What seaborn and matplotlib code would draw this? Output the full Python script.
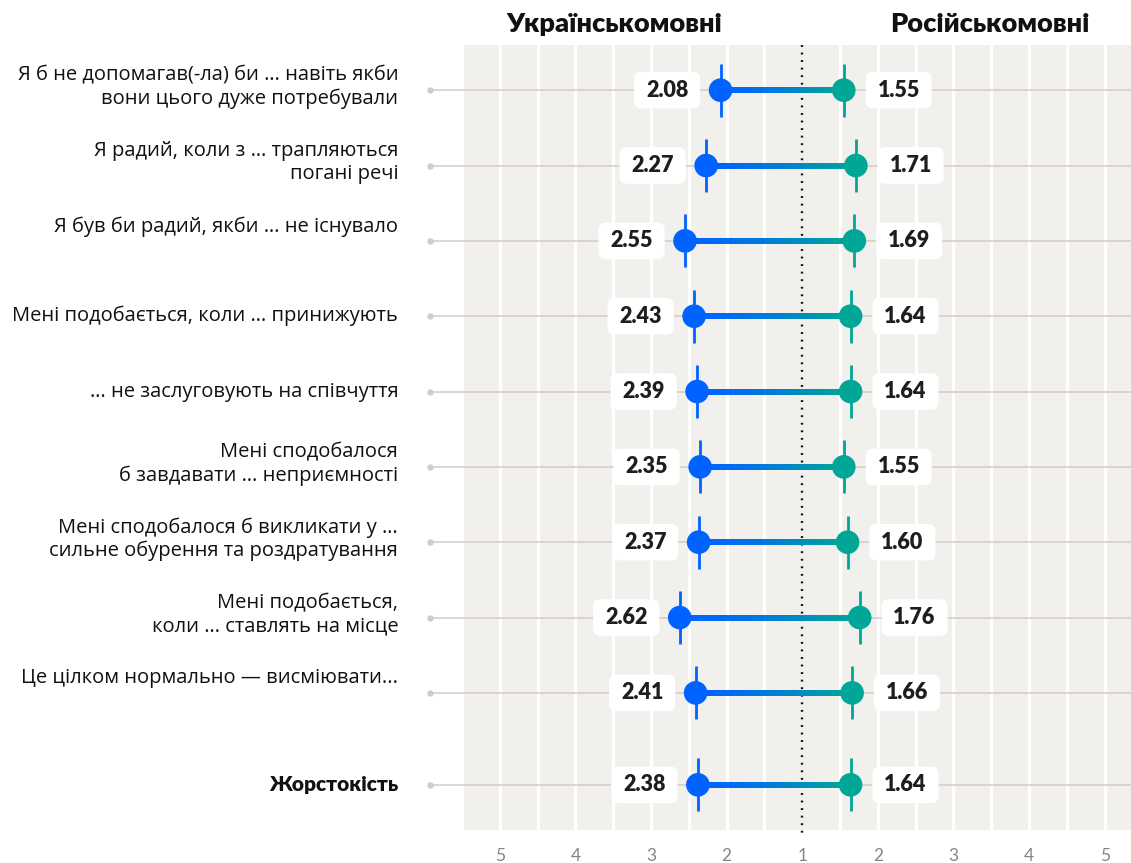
import numpy as np
import pandas as pd
import matplotlib
matplotlib.use("Agg")
import matplotlib.pyplot as plt
import matplotlib.transforms as mtransforms
from matplotlib.collections import LineCollection
from matplotlib.colors import to_rgb
from matplotlib.patches import BoxStyle
import seaborn as sns

# ---------------- data ----------------
categories = [
    "Я б не допомагав(-ла) би … навіть якби\nвони цього дуже потребували",
    "Я радий, коли з … трапляються\nпогані речі",
    "Я був би радий, якби … не існувало\n",
    "Мені подобається, коли … принижують",
    "… не заслуговують на співчуття",
    "Мені сподобалося\nб завдавати … неприємності",
    "Мені сподобалося б викликати у …\nсильне обурення та роздратування",
    "Мені подобається,\nколи … ставлять на місце",
    "Це цілком нормально — висміювати...\n",
    "Жорстокість",
]
ukr_values = [2.08, 2.27, 2.55, 2.43, 2.39, 2.35, 2.37, 2.62, 2.41, 2.38]
rus_values = [1.55, 1.71, 1.69, 1.64, 1.64, 1.55, 1.60, 1.76, 1.66, 1.64]
group_names = ["Українськомовні", "Російськомовні"]
tick_labels = ["5", "4", "3", "2", "1", "2", "3", "4", "5"]

# ---------------- layout / style ----------------
row_pos = [0, 1, 2, 3, 4, 5, 6, 7, 8, 9.22]
BLUE = "#0062ff"
TEAL = "#00a796"
BG = "#f1f0ed"
ROWLINE = "#d8cfc6"
LABEL_FONT = "Open Sans"
BOLD_FONT = "Lato"

sns.set_theme(style="white")
plt.rcParams["font.family"] = [BOLD_FONT, "DejaVu Sans"]

n = len(categories)
df = pd.DataFrame({
    "category": categories * 2,
    "group": [group_names[0]] * n + [group_names[1]] * n,
    "value": ukr_values + rus_values,
    "y": row_pos * 2,
})
df["x"] = np.where(df["group"] == group_names[0], -(df["value"] - 1), df["value"] - 1)
palette = {group_names[0]: BLUE, group_names[1]: TEAL}

fig = plt.figure(figsize=(11.31, 8.63), dpi=100)
ax = fig.add_axes([462 / 1131, 33 / 863, 669 / 1131, 785 / 863])
ax.set_facecolor(BG)
for s in ax.spines.values():
    s.set_visible(False)

x_left, x_right = -4.5, -4.5 + 669 / 75.6
y_top, y_bot = -0.6, row_pos[-1] + 0.6
ax.set_xlim(x_left, x_right)
ax.set_ylim(y_bot, y_top)

# white vertical grid every half unit
for v in np.arange(-4.5, 4.51, 0.5):
    if abs(v) > 1e-9:
        ax.axvline(v, color="white", lw=2.3, zorder=1)

# row guide lines with small dot on the left
guide_x0 = -4.5 - 32 / 75.6
for y in row_pos:
    ax.plot([guide_x0, x_right], [y, y], color=ROWLINE, lw=1.2, zorder=2,
            clip_on=False, solid_capstyle="butt")
    ax.plot([guide_x0], [y], marker="o", ms=3.6, color="#d2ccc3", zorder=2,
            clip_on=False)

# centre dotted line
ax.plot([0, 0], [y_top, y_bot + 0.07], color="#111111", lw=1.7,
        ls=(0, (0.8, 2.4)), zorder=3, clip_on=False)

# gradient connecting lines
c1, c2 = np.array(to_rgb(BLUE)), np.array(to_rgb(TEAL))
for y, u, r in zip(row_pos, ukr_values, rus_values):
    xs = np.linspace(-(u - 1), r - 1, 40)
    pts = np.column_stack([xs, np.full_like(xs, y)])
    segs = np.stack([pts[:-1], pts[1:]], axis=1)
    t = np.linspace(0, 1, len(segs)) ** 1.4
    cols = c1[None, :] * (1 - t[:, None]) + c2[None, :] * t[:, None]
    lc = LineCollection(segs, colors=cols, linewidths=4.0, zorder=4,
                        capstyle="projecting", antialiaseds=False)
    ax.add_collection(lc)

# vertical ticks through the dots
sns.scatterplot(data=df, x="x", y="y", hue="group", palette=palette,
                marker="|", s=38 ** 2, linewidth=2.0, legend=False, ax=ax,
                zorder=5)
# dots
sns.scatterplot(data=df, x="x", y="y", hue="group", palette=palette,
                marker="o", s=17 ** 2, edgecolor="none", linewidth=0,
                legend=False, ax=ax, zorder=6)


# value boxes (wider horizontal than vertical padding)
_round = BoxStyle.Round(pad=0.0, rounding_size=0.33)


def value_box(x0, y0, width, height, mutation_size):
    padx, pady = 0.55 * mutation_size, 0.36 * mutation_size
    return _round(x0 - padx, y0 - pady, width + 2 * padx, height + 2 * pady,
                  mutation_size)


for _, row in df.iterrows():
    off = -38.5 if row["x"] < 0 else 39.5
    ax.annotate(f"{row['value']:.2f}", xy=(row["x"], row["y"]),
                xytext=(off, 0), textcoords="offset points",
                ha="center", va="center", fontsize=15.5, fontweight="heavy",
                color="#1e1e1e", zorder=7,
                bbox=dict(boxstyle=value_box, fc="white", ec="none"))

# category labels
label_x = (398 - 802) / 75.6
for i, (cat, y) in enumerate(zip(categories, row_pos)):
    bold = i == len(categories) - 1
    shift = -0.04 if "\n" in cat else 0.0
    ax.text(label_x, y + shift, cat, ha="right", va="center",
            fontsize=15 if bold else 14.5,
            family=[BOLD_FONT if bold else LABEL_FONT, "DejaVu Sans"],
            fontweight="heavy" if bold else "normal", color="#111111",
            linespacing=1.2, clip_on=False)

# group titles
trans = mtransforms.blended_transform_factory(ax.transData, fig.transFigure)
for xpos, name in zip([-2.48, 2.48], group_names):
    ax.text(xpos, 1 - 24 / 863, name, transform=trans, ha="center",
            va="center", fontsize=19.5, fontweight="heavy", color="#111111")

# x ticks
ax.set_xticks(np.arange(-4, 5, 1))
ax.set_xticklabels(tick_labels)
ax.tick_params(axis="x", length=0, pad=13, labelsize=12.5, labelcolor="#858585")
ax.set_yticks([])
ax.set_xlabel("")
ax.set_ylabel("")

fig.savefig("out.png", dpi=100)
